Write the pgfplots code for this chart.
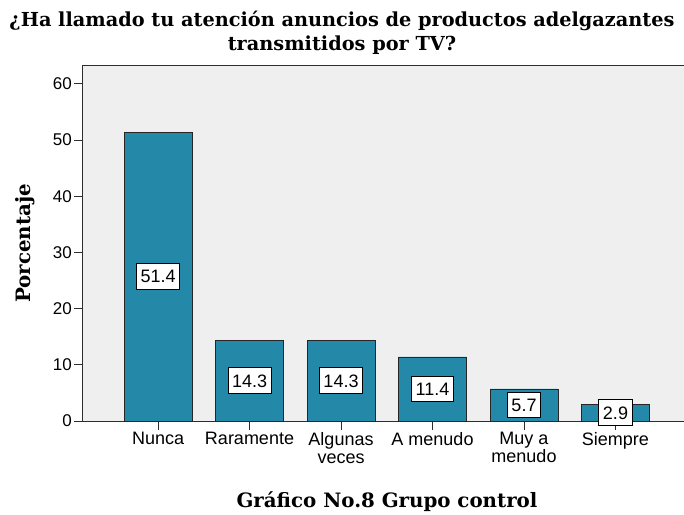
\documentclass[border=0pt]{standalone}
\usepackage{fontspec}
\setmainfont{Liberation Sans}
\newfontfamily\serifbold{DejaVu Serif}
\usepackage{pgfplots}
\usepackage{pgfplotstable}
\pgfplotsset{compat=1.18}

\definecolor{barfill}{RGB}{36,136,168}
\definecolor{plotbg}{RGB}{239,239,239}
\definecolor{framec}{RGB}{45,45,45}

% porcentaje por categoria
\pgfplotstableread{
x v
0 51.4
1 14.3
2 14.3
3 11.4
4 5.7
5 2.9
}\datos

\begin{document}
\begin{tikzpicture}
\clip (-83pt,-93pt) rectangle (601pt,421pt);
\begin{axis}[
  scale only axis,
  width=612pt, height=355pt,
  xmin=-0.82, xmax=5.869,
  ymin=0, ymax=63.2,
  clip=false,
  axis background/.style={fill=plotbg},
  axis line style={framec, line width=1pt},
  xtick={0,...,5},
  xticklabels={Nunca, Raramente, Algunas\\veces, A menudo, Muy a\\menudo, Siempre},
  ytick={0,10,...,60},
  xtick pos=bottom, ytick pos=left,
  tick align=outside,
  major tick length=9pt,
  tick style={framec, line width=1pt},
  /pgf/number format/assume math mode=true,
  xticklabel style={align=center, font=\fontsize{18}{18}\selectfont, inner sep=2pt},
  yticklabel style={font=\fontsize{17}{17}\selectfont, inner sep=2pt},
  xlabel={Gráfico No.8 Grupo control},
  ylabel={Porcentaje},
  every axis y label/.style={at={(rel axis cs:0,0.5)}, xshift=-58pt, rotate=90, anchor=center,
    font=\serifbold\bfseries\fontsize{19.8}{22}\selectfont},
  every axis x label/.style={at={(304pt,-86pt)}, anchor=base,
    font=\serifbold\bfseries\fontsize{19.8}{22}\selectfont},
]
\addplot[ybar, bar width=0.743, fill=barfill, draw=black!85, line width=0.8pt]
  table[x=x, y=v] {\datos};
\addplot[draw=none, mark=none,
  nodes near coords={\pgfmathprintnumber[fixed,fixed zerofill,precision=1]{\pgfplotspointmeta}},
  nodes near coords align=center,
  point meta=explicit,
  every node near coord/.append style={fill=white, draw=black, line width=1pt,
    font=\fontsize{18}{18}\selectfont, inner xsep=4pt, inner ysep=6.5pt, anchor=center}]
  table[x=x, y expr=\thisrow{v}/2, meta=v] {\datos};
\end{axis}
\node[font=\serifbold\bfseries\fontsize{19.3}{24}\selectfont, align=center, anchor=base]
  at (259pt,370pt) {¿Ha llamado tu atención anuncios de productos adelgazantes\\transmitidos por TV?};
\end{tikzpicture}
\end{document}
